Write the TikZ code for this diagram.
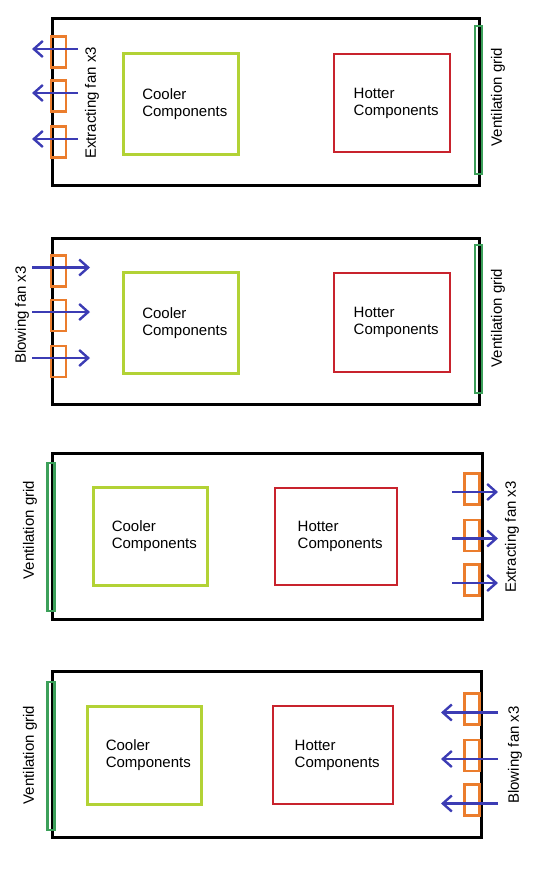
\documentclass[tikz,border=0pt]{standalone}
\usepackage{fontspec}
\setmainfont{Liberation Sans}
\usetikzlibrary{arrows.meta}
\definecolor{coolgreen}{RGB}{178,210,53}
\definecolor{hotred}{RGB}{200,35,45}
\definecolor{fanorange}{RGB}{235,125,45}
\definecolor{airblue}{RGB}{60,60,180}
\definecolor{gridgreen}{RGB}{60,160,90}
\def\fanw{15pt}
\def\fanh{31pt}

\begin{document}
\begin{tikzpicture}[x=1pt, y=-1pt,
    every node/.style={font=\fontsize{15}{17}\selectfont},
    case/.style={draw=black, line width=2.6pt, anchor=north west, inner sep=0pt, minimum height=166pt},
    coolbox/.style={draw=coolgreen, line width=2.6pt, anchor=north west, inner sep=0pt},
    hotbox/.style={draw=hotred, line width=2.4pt, anchor=north west, inner sep=0pt},
    fan/.style={draw=fanorange, line width=2.4pt, inner sep=0pt, minimum width=\fanw, minimum height=\fanh},
    vent/.style={draw=gridgreen, line width=2.4pt, inner sep=0pt, minimum width=7pt, minimum height=148pt},
    flow/.style={draw=airblue, line width=2.4pt, -{Straight Barb[length=9pt, width=16pt]}},
    lbl/.style={align=left, inner sep=0pt},
    side/.style={rotate=90, inner sep=0pt}]
  \useasboundingbox (0,0) rectangle (540,870);

  % top: extracting fans on the left, grid on the right
  \node[case, minimum width=427pt, minimum height=167pt] (case1) at (51,17) {};
  \node[coolbox, minimum width=115pt, minimum height=101pt] (cool1) at (122,52) {};
  \node[hotbox, minimum width=116pt, minimum height=98pt] (hot1) at (333,53) {};
  \node[lbl] at ([xshift=4pt]cool1.center) {Cooler\\Components};
  \node[lbl] at ([xshift=4pt]hot1.center) {Hotter\\Components};
  \node[vent] (grid1) at (478.5,100) {};
  \node[side] (gridtxt1) at (498,97) {Ventilation grid};
  \foreach \y [count=\i] in {52,96,142} {
    \node[fan] (fanA\i) at (58.5,\y) {};
    \coordinate (inA\i) at (78,\y-3);
    \coordinate (outA\i) at (32,\y-3);
    \draw[flow] (inA\i) -- (outA\i);
  }
  \node[side] (fantxt1) at (92,103) {Extracting fan x3};

  % second: blowing fans on the left, grid on the right
  \node[case, minimum width=427pt] (case2) at (51,237) {};
  \node[coolbox, minimum width=115pt, minimum height=101pt] (cool2) at (122,271) {};
  \node[hotbox, minimum width=116pt, minimum height=99pt] (hot2) at (333,272) {};
  \node[lbl] at ([xshift=4pt]cool2.center) {Cooler\\Components};
  \node[lbl] at ([xshift=4pt]hot2.center) {Hotter\\Components};
  \node[vent] (grid2) at (478.5,319) {};
  \node[side] (gridtxt2) at (498,318) {Ventilation grid};
  \foreach \y [count=\i] in {271,315.5,361.5} {
    \node[fan] (fanB\i) at (58.5,\y) {};
    \coordinate (inB\i) at (32,\y-3.5);
    \coordinate (outB\i) at (90,\y-3.5);
    \draw[flow] (inB\i) -- (outB\i);
  }
  \node[side] (fantxt2) at (22,315) {Blowing fan x3};

  % third: grid on the left, extracting fans on the right
  \node[case, minimum width=430pt] (case3) at (51,452) {};
  \node[coolbox, minimum width=114pt, minimum height=98pt] (cool3) at (92,486) {};
  \node[hotbox, minimum width=122pt, minimum height=97pt] (hot3) at (274,487) {};
  \node[lbl] at ([xshift=4pt]cool3.center) {Cooler\\Components};
  \node[lbl] at ([xshift=4pt]hot3.center) {Hotter\\Components};
  \node[vent] (grid3) at (51,537) {};
  \node[side] (gridtxt3) at (30,530) {Ventilation grid};
  \foreach \y [count=\i] in {489,535.5,580} {
    \node[fan] (fanC\i) at (472,\y) {};
    \coordinate (inC\i) at (452,\y+3);
    \coordinate (outC\i) at (498,\y+3);
    \draw[flow] (inC\i) -- (outC\i);
  }
  \node[side] (fantxt3) at (512,537) {Extracting fan x3};

  % bottom: grid on the left, blowing fans on the right
  \node[case, minimum width=429pt] (case4) at (51,670) {};
  \node[coolbox, minimum width=114pt, minimum height=98pt] (cool4) at (86,705) {};
  \node[hotbox, minimum width=120pt, minimum height=98pt] (hot4) at (272,705) {};
  \node[lbl] at ([xshift=4pt]cool4.center) {Cooler\\Components};
  \node[lbl] at ([xshift=4pt]hot4.center) {Hotter\\Components};
  \node[vent] (grid4) at (51,756) {};
  \node[side] (gridtxt4) at (30,755) {Ventilation grid};
  \foreach \y [count=\i] in {709,755.5,800} {
    \node[fan] (fanD\i) at (472,\y) {};
    \coordinate (inD\i) at (498,\y+3.5);
    \coordinate (outD\i) at (441,\y+3.5);
    \draw[flow] (inD\i) -- (outD\i);
  }
  \node[side] (fantxt4) at (515,755) {Blowing fan x3};
\end{tikzpicture}
\end{document}
